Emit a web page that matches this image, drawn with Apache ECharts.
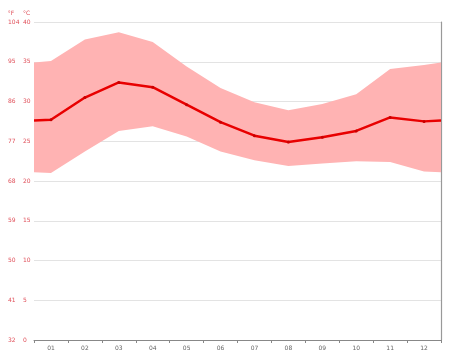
<!DOCTYPE html>
<html>
<head>
<meta charset="utf-8">
<script src="https://cdn.jsdelivr.net/npm/echarts@6/dist/echarts.min.js"></script>
<style>html,body{margin:0;padding:0;background:#fff}#c{width:474px;height:355px}</style>
</head>
<body>
<div id="c"></div>
<script>
// Months
var months = ['01','02','03','04','05','06','07','08','09','10','11','12'];
// °C values
var maxTemp = [35.1, 37.8, 38.7, 37.5, 34.4, 31.7, 29.9, 28.9, 29.7, 30.9, 34.1, 34.6];
var avgTemp = [27.7, 30.5, 32.4, 31.8, 29.6, 27.4, 25.7, 24.9, 25.5, 26.3, 28.0, 27.5];
var minTemp = [21.0, 23.7, 26.3, 26.9, 25.6, 23.7, 22.6, 21.9, 22.2, 22.5, 22.4, 21.2];
// values read at the left / right plot edges
var edgeMax = 34.9, edgeAvg = 27.6, edgeMin = 21.1;
// tick labels
var cTicks = [0,5,10,15,20,25,30,35,40];
var fTicks = [32,41,50,59,68,77,86,95,104];

// data items as [value, position] so that the value is the first (stacked) dimension
function build(vals, edge, withSymbol) {
  var d = [{value:[edge, 0], symbol:'none'}];
  for (var i = 0; i < vals.length; i++) {
    d.push(withSymbol ? [vals[i], i + 0.5] : {value:[vals[i], i + 0.5], symbol:'none'});
  }
  d.push({value:[edge, months.length], symbol:'none'});
  return d;
}
var diff = maxTemp.map(function(v, i){ return +(v - minTemp[i]).toFixed(2); });

var chart = echarts.init(document.getElementById('c'), null, {renderer:'canvas'});
var labelColor = '#e0505a';
var enc = {x:1, y:0};
chart.setOption({
  animation: false,
  grid: {left: 34, right: 33, top: 22, bottom: 15},
  xAxis: [
    {type:'category', data: months, boundaryGap: true,
     axisLine:{lineStyle:{color:'#888', width:1}},
     axisTick:{show:true, length:3, lineStyle:{color:'#888'}},
     axisLabel:{fontSize:6, color:'#666', margin:5, fontFamily:'DejaVu Sans'},
     splitLine:{show:false}},
    {type:'value', min:0, max:months.length, show:false}
  ],
  yAxis: [
    {type:'value', min:cTicks[0], max:cTicks[cTicks.length-1], interval:5, position:'left', offset:9,
     name:'°C', nameLocation:'end', nameGap:6,
     nameTextStyle:{color:labelColor, fontSize:6, fontFamily:'DejaVu Sans', padding:[0,15,0,0]},
     axisLine:{show:false}, axisTick:{show:false},
     axisLabel:{color:labelColor, fontSize:6, align:'left', margin:2, fontFamily:'DejaVu Sans'},
     splitLine:{show:true, lineStyle:{color:'#e3e3e3', width:1}}},
    {type:'value', min:fTicks[0], max:fTicks[fTicks.length-1], interval:9, position:'left', offset:23,
     name:'°F', nameLocation:'end', nameGap:6,
     nameTextStyle:{color:labelColor, fontSize:6, fontFamily:'DejaVu Sans'},
     axisLine:{show:false}, axisTick:{show:false},
     axisLabel:{color:labelColor, fontSize:6, align:'left', margin:3, fontFamily:'DejaVu Sans'},
     splitLine:{show:false}},
    {type:'value', min:0, max:40, position:'right',
     axisLine:{show:true, lineStyle:{color:'#999', width:1.2}},
     axisTick:{show:false}, axisLabel:{show:false}, splitLine:{show:false}}
  ],
  series: [
    {type:'line', xAxisIndex:1, yAxisIndex:0, stack:'band', symbol:'none', encode:enc,
     lineStyle:{opacity:0}, data: build(minTemp, edgeMin, false), silent:true, z:1},
    {type:'line', xAxisIndex:1, yAxisIndex:0, stack:'band', symbol:'none', encode:enc,
     lineStyle:{opacity:0}, areaStyle:{color:'#ffb3b3', opacity:1},
     data: build(diff, +(edgeMax - edgeMin).toFixed(2), false), silent:true, z:1},
    {type:'line', xAxisIndex:1, yAxisIndex:0, symbol:'circle', symbolSize:3, encode:enc,
     lineStyle:{color:'#e80000', width:2.5}, itemStyle:{color:'#c80000'},
     data: build(avgTemp, edgeAvg, true), z:3}
  ]
});
</script>
</body>
</html>
